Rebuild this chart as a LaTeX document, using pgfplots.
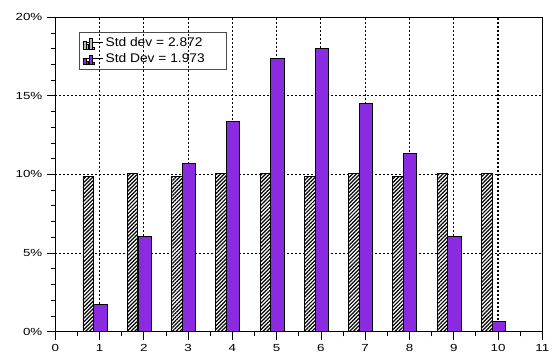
\documentclass[border=0pt]{standalone}
\usepackage{fontspec}
\setmainfont{Liberation Sans}
\newfontfamily\tickfont[FakeStretch=1.3]{Liberation Sans}
\newfontfamily\legfont[FakeStretch=1.1]{Liberation Sans}
\usepackage{pgfplots}
\usepackage{pgfplotstable}
\pgfplotsset{compat=1.18}
\usetikzlibrary{patterns.meta}
\definecolor{barpurple}{HTML}{8A2BE2}

% share of samples (in %) per bin, for the two distributions
\pgfplotstableread{
x  uniform  peaked
1  9.88     1.74
2  10.04    6.04
3  9.88     10.71
4  10.04    13.40
5  10.04    17.39
6  9.88     18.03
7  10.04    14.53
8  9.88     11.35
9  10.04    6.04
10 10.04    0.64
}\bardata

\begin{document}
\begin{tikzpicture}
\begin{axis}[
  at={(0,0)}, anchor=south west,
  scale only axis, width=365.25pt, height=235.8pt,
  xmin=0, xmax=11, ymin=0, ymax=20,
  xtick={0,1,...,11}, ytick={0,5,10,15,20},
  minor x tick num=1, minor y tick num=4,
  tick align=outside, xtick pos=bottom, ytick pos=left,
  major tick length=6.2pt, minor tick length=3.5pt,
  every tick/.style={black, line width=0.6pt},
  grid=major,
  major grid style={black, line width=0.8pt, dash pattern=on 1.1pt off 1.9pt},
  axis line style={line width=0.9pt},
  /pgf/number format/assume math mode=true,
  yticklabel={\pgfmathprintnumber{\tick}\%},
  tick label style={font=\tickfont\fontsize{7.7}{9}\selectfont},
  legend cell align=left,
  legend style={at={(0.0487,0.954)}, anchor=north west,
    draw=black!70, line width=0.6pt, fill=none,
    font=\legfont\fontsize{9.4}{11}\selectfont,
    inner xsep=2pt, inner ysep=2.4pt, row sep=0.6pt,
    nodes={inner sep=1.5pt}},
]
\addplot[ybar, bar width=0.24, bar shift=-0.256, draw=black, line width=0.6pt,
  preaction={fill=white},
  pattern={Lines[angle=45, distance=2.0pt, line width=0.9pt]}, pattern color=black,
  legend image code/.code={
    \path (-0.5pt,0pt) -- (15pt,0pt);
    \begin{scope}[line width=0.3pt, draw=black, fill=gray!55]
      \filldraw (0pt,-4.4pt) rectangle (2pt,1pt);
      \filldraw (2pt,-4.4pt) rectangle (4pt,-1.2pt);
      \filldraw (4.8pt,-4.4pt) rectangle (6.7pt,3.4pt);
      \filldraw (7pt,-4.4pt) rectangle (8.6pt,-3.4pt);
    \end{scope}
  }]
  table[x=x, y=uniform]{\bardata};
\addlegendentry{Std dev = 2.872\hspace*{13pt}}
\addplot[ybar, bar width=0.30, bar shift=0.016, draw=black, line width=0.6pt,
  fill=barpurple,
  legend image code/.code={
    \path (-0.5pt,0pt) -- (15pt,0pt);
    \begin{scope}[line width=0.3pt, draw=black, fill=barpurple]
      \filldraw (0pt,-4.4pt) rectangle (2pt,0.2pt);
      \filldraw (2pt,-4.4pt) rectangle (4pt,-1.6pt);
      \filldraw (4.8pt,-4.4pt) rectangle (6.7pt,2.8pt);
      \filldraw (7pt,-4.4pt) rectangle (8.6pt,-2.5pt);
    \end{scope}
  }]
  table[x=x, y=peaked]{\bardata};
\addlegendentry{Std Dev = 1.973\hspace*{13pt}}
\end{axis}
\pgfresetboundingbox
\path[use as bounding box] (-41.5pt,-16pt) rectangle (375.55pt,248.75pt);
\end{tikzpicture}
\end{document}
